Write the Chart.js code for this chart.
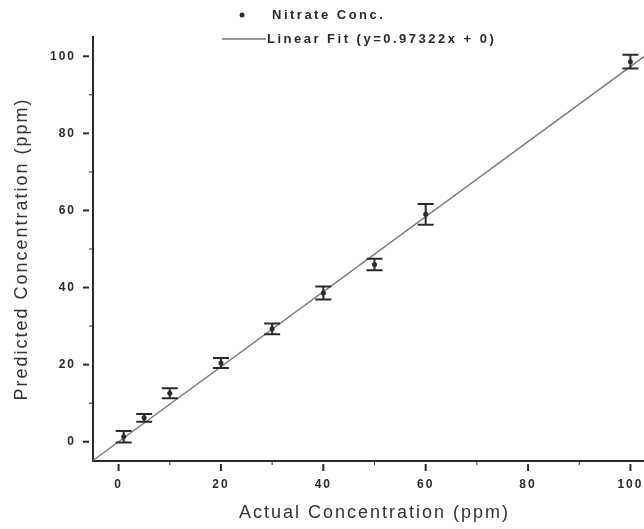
<!DOCTYPE html>
<html>
<head>
<meta charset="utf-8">
<script src="https://cdn.jsdelivr.net/npm/chart.js@4"></script>
<style>
  html,body{margin:0;padding:0;background:#fff;overflow:hidden;}
  #wrap{width:670px;height:529px;}
</style>
</head>
<body>
<div id="wrap"><canvas id="c" width="670" height="529"></canvas></div>
<script>
'use strict';
// measured points (ppm)
const actual    = [1, 5, 10, 20, 30, 40, 50, 60, 100];
const predicted = [1.3, 6.2, 12.6, 20.4, 29.3, 38.6, 46.0, 59.0, 98.6];
const errs      = [1.5, 1.0, 1.3, 1.3, 1.4, 1.7, 1.5, 2.7, 1.8];
const slope = 0.97322;
const fitX = [-5, 105];
const tickVals = [0, 10, 20, 30, 40, 50, 60, 70, 80, 90, 100];
const seriesNames = ['Nitrate Conc.', 'Linear Fit (y=0.97322x + 0)'];

const INK = '#2a2a2a';
const FONT = "'Liberation Sans', Arial, sans-serif";

const errorBars = {
  id:'errorBars',
  afterDatasetsDraw(chart){
    const {ctx, scales:{x, y}} = chart;
    ctx.save();
    ctx.strokeStyle = INK;
    ctx.lineWidth = 2;
    actual.forEach((v,i)=>{
      const px = x.getPixelForValue(v);
      const top = y.getPixelForValue(predicted[i]+errs[i]);
      const bot = y.getPixelForValue(predicted[i]-errs[i]);
      ctx.beginPath();
      ctx.moveTo(px, top); ctx.lineTo(px, bot);
      ctx.moveTo(px-8, top); ctx.lineTo(px+8, top);
      ctx.moveTo(px-8, bot); ctx.lineTo(px+8, bot);
      ctx.stroke();
    });
    ctx.restore();
  }
};

// origin-style ticks: long ones on labelled values, short ones between
const axisTicks = {
  id:'axisTicks',
  afterDraw(chart){
    const {ctx, scales:{x, y}, chartArea:a} = chart;
    ctx.save();
    ctx.strokeStyle = INK;
    x.ticks.forEach(t=>{
      const px = x.getPixelForValue(t.value);
      const major = t.value % 20 === 0;
      ctx.lineWidth = major ? 2 : 1;
      ctx.beginPath();
      ctx.moveTo(px, a.bottom + (major ? 3 : 1));
      ctx.lineTo(px, a.bottom + (major ? 10 : 4));
      ctx.stroke();
    });
    y.ticks.forEach(t=>{
      const py = y.getPixelForValue(t.value);
      const major = t.value % 20 === 0;
      ctx.lineWidth = major ? 2 : 1;
      ctx.beginPath();
      ctx.moveTo(a.left - (major ? 4 : 1), py);
      ctx.lineTo(a.left - (major ? 10 : 4), py);
      ctx.stroke();
    });
    ctx.restore();
  }
};

const legendBox = {
  id:'legendBox',
  afterDraw(chart){
    const {ctx} = chart;
    ctx.save();
    ctx.letterSpacing = '2.5px';
    ctx.font = 'bold 13px ' + FONT;
    ctx.fillStyle = INK;
    ctx.textBaseline = 'middle';
    ctx.beginPath(); ctx.arc(242, 15, 2.5, 0, Math.PI*2); ctx.fill();
    ctx.fillText(seriesNames[0], 272, 15);
    ctx.strokeStyle = '#777'; ctx.lineWidth = 1.5;
    ctx.beginPath(); ctx.moveTo(222, 39); ctx.lineTo(266, 39); ctx.stroke();
    ctx.fillText(seriesNames[1], 267, 39);
    ctx.restore();
  }
};

const spacing = {
  id:'spacing',
  beforeDraw(chart){ chart.ctx.letterSpacing = '2px'; },
  afterDraw(chart){ chart.ctx.letterSpacing = '0px'; }
};

const tickFont = {family:FONT, size:12, weight:'bold'};
const setTicks = s => { s.ticks = tickVals.map(v=>({value:v})); };

new Chart(document.getElementById('c'), {
  type:'scatter',
  data:{
    datasets:[
      {
        label:seriesNames[0],
        data:actual.map((v,i)=>({x:v, y:predicted[i]})),
        pointRadius:2.5,
        pointBackgroundColor:INK,
        pointBorderWidth:0,
        order:1
      },
      {
        label:seriesNames[1],
        type:'line',
        data:fitX.map(v=>({x:v, y:slope*v})),
        borderColor:'#7a7a7a',
        borderWidth:1.5,
        pointRadius:0,
        fill:false,
        order:2
      }
    ]
  },
  options:{
    responsive:false,
    animation:false,
    clip:false,
    layout:{padding:{left:0, top:37, right:14, bottom:0}},
    plugins:{legend:{display:false}, tooltip:{enabled:false}},
    scales:{
      x:{
        type:'linear', min:-5, max:105,
        afterBuildTicks:setTicks,
        afterFit(s){ s.height = 68; },
        border:{color:INK, width:2},
        grid:{drawOnChartArea:false, tickLength:10, tickColor:'transparent'},
        ticks:{maxRotation:0, autoSkip:false,
               padding:6, color:INK, font:tickFont,
               callback:v=>v % 20 === 0 ? v : ''},
        title:{display:true, text:'Actual Concentration (ppm)', color:'#333',
               font:{family:FONT, size:18}, padding:{top:0, bottom:5}}
      },
      y:{
        type:'linear', min:-5, max:105,
        afterBuildTicks:setTicks,
        afterFit(s){ s.width = 93; },
        border:{color:INK, width:2},
        grid:{drawOnChartArea:false, tickLength:10, tickColor:'transparent'},
        ticks:{autoSkip:false,
               padding:7, color:INK, font:tickFont,
               callback:v=>v % 20 === 0 ? v : ''},
        title:{display:true, text:'Predicted Concentration (ppm)', color:'#333',
               font:{family:FONT, size:18}, padding:{top:11, bottom:0}}
      }
    }
  },
  plugins:[spacing, errorBars, axisTicks, legendBox]
});
</script>
</body>
</html>
